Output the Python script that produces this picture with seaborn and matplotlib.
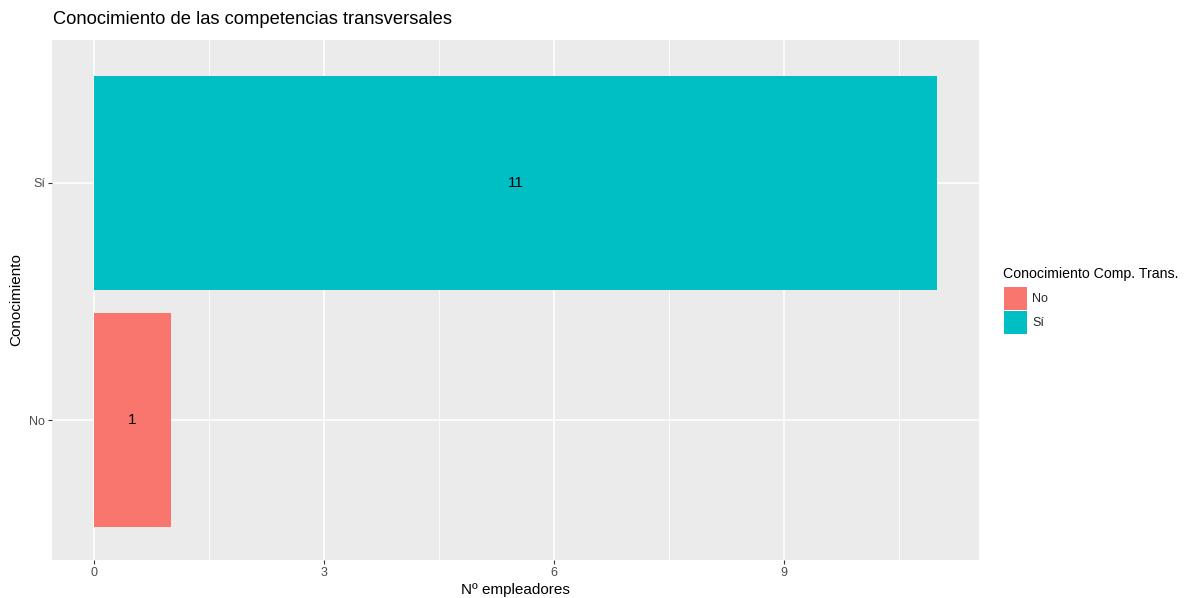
import matplotlib
matplotlib.use("Agg")
import matplotlib.pyplot as plt
import seaborn as sns
import pandas as pd
from matplotlib.patches import Patch

categories = ["Sí", "No"]
counts = [11, 1]
colors = {"No": "#F8766D", "Sí": "#00BFC4"}
legend_order = ["No", "Sí"]
xticks = [0, 3, 6, 9]
minor_xticks = [1.5, 4.5, 7.5, 10.5]

df = pd.DataFrame({"Conocimiento": categories, "n": counts})

sns.set_theme(style="darkgrid")
plt.rcParams["font.family"] = ["Liberation Sans", "DejaVu Sans"]

fig = plt.figure(figsize=(11.89, 5.98), dpi=100)
ax = fig.add_axes([52/1189, 1-560/598, (979-52)/1189, (560-40)/598])
ax.set_facecolor("#EBEBEB")

sns.barplot(data=df, x="n", y="Conocimiento", hue="Conocimiento", order=categories,
            palette=colors, width=0.9, orient="h", ax=ax, legend=False, saturation=1,
            edgecolor="none", linewidth=0)

for c in ax.containers:
    labels = [f"{int(b.get_width())}" if b.get_width() > 0 else "" for b in c]
    ax.bar_label(c, labels=labels, label_type="center", fontsize=11, color="black")

ax.set_xlim(-0.55, 11.55)
ax.set_ylim(1.59, -0.603)
ax.set_xticks(xticks)
ax.set_xticks(minor_xticks, minor=True)
ax.grid(True, which="major", color="white", linewidth=1.1)
ax.grid(True, which="minor", axis="x", color="white", linewidth=0.55)
ax.grid(False, which="minor", axis="y")
ax.set_axisbelow(True)
for s in ax.spines.values():
    s.set_visible(False)
ax.tick_params(axis="both", which="major", length=3, width=0.8, color="#333333",
               labelsize=9, labelcolor="#4D4D4D", pad=2, bottom=True, left=True)
ax.tick_params(which="minor", length=0)

ax.set_xlabel("Nº empleadores", fontsize=11, color="black", labelpad=3)
ax.set_ylabel("Conocimiento", fontsize=11, color="black", labelpad=4)
fig.text(53/1189, 1-20/598, "Conocimiento de las competencias transversales",
         fontsize=13.2, color="black", va="center", ha="left")

fig.text(1003/1189, 1-274/598, "Conocimiento Comp. Trans.", fontsize=10.2,
         color="black", va="center", ha="left")
handles = [Patch(facecolor=colors[k], edgecolor="none", label=k) for k in legend_order]
leg = fig.legend(handles=handles, loc="upper left",
                 bbox_to_anchor=(1004/1189, 1-287/598), frameon=False, fontsize=9,
                 handlelength=1.84, handleheight=2.45,
                 labelspacing=0.05, handletextpad=0.4, borderpad=0, borderaxespad=0)

fig.savefig("out.png", dpi=100, facecolor="white")
